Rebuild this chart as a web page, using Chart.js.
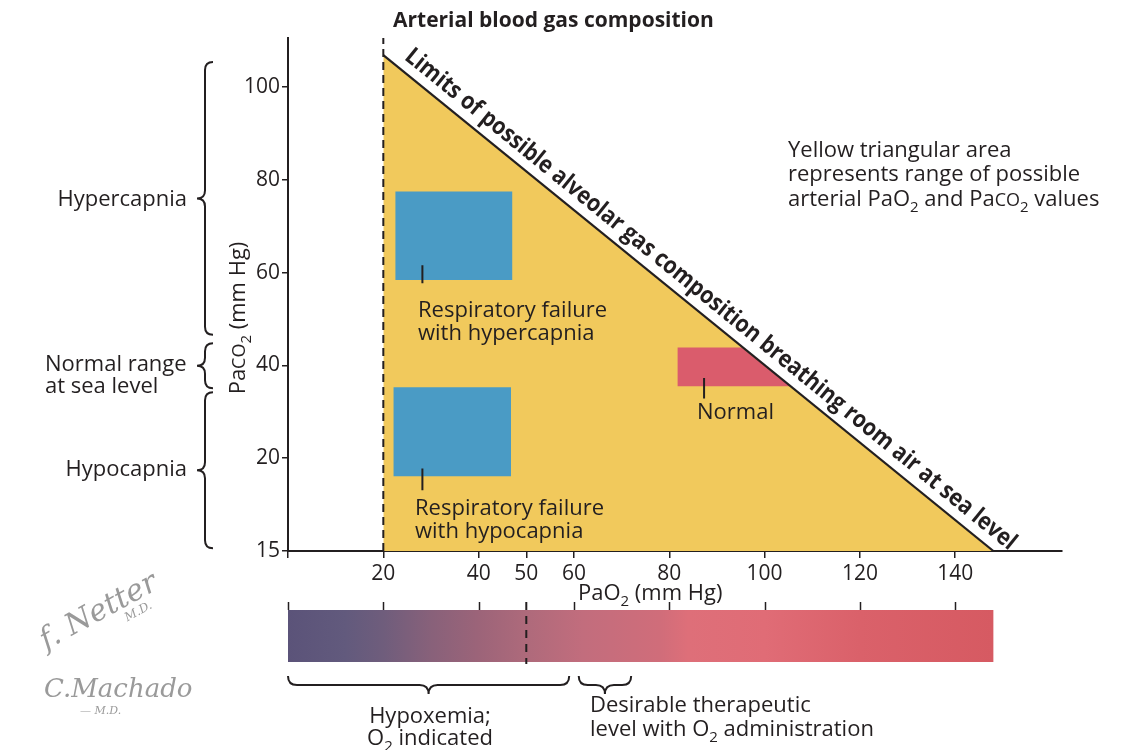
<!DOCTYPE html>
<html><head><meta charset="utf-8">
<script src="https://cdn.jsdelivr.net/npm/chart.js@4/dist/chart.umd.min.js"></script>
<style>html,body{margin:0;padding:0;background:#fff}#wrap{width:1125px;height:750px;position:relative}</style>
</head><body><div id="wrap"><canvas id="c" width="1125" height="750"></canvas></div>
<script>
// ---- data ----
const xTickValues = [0, 20, 40, 50, 60, 80, 100, 120, 140];
const xTickLabels = ['', '20', '40', '50', '60', '80', '100', '120', '140'];
const yTickValues = [0, 20, 40, 60, 80, 100];
const yTickLabels = ['15', '20', '40', '60', '80', '100'];
const limitLine = [{x: 20, y: 106.9}, {x: 148, y: 0}];           // alveolar gas limit
const dashedLine = [{x: 20, y: 0}, {x: 20, y: 110.6}];
const hyperRect = [{x: 22.5, y: 77.5}, {x: 47.1, y: 77.5}];     const hyperBottom = 58.4;
const hypoRect = [{x: 22.1, y: 35.3}, {x: 46.8, y: 35.3}];      const hypoBottom = 16.1;
const normalRect = [{x: 81.7, y: 43.9}, {x: 95.2, y: 43.9}, {x: 105.4, y: 35.5}]; const normalBottom = 35.5;
const leaderHyper = [{x: 28.2, y: 61.6}, {x: 28.2, y: 57.7}];
const leaderHypo = [{x: 28.2, y: 17.8}, {x: 28.2, y: 13.1}];
const leaderNormal = [{x: 87.3, y: 37.3}, {x: 87.3, y: 32.9}];
const braceY = [[105.4, 46.6], [44.8, 35.1], [34.2, 0.6]];
const braceX = [[0, 59], [61, 72]];
const barRange = [0, 148];
const barTicks = [0, 20, 40, 60, 80, 100, 120, 140];
const barDash = 50;
const barStops = [[0,'#5b5379'],[12,'#625a7d'],[20,'#6f5d7c'],[30,'#88617a'],[40,'#9c6479'],[50,'#ae6a7b'],[62,'#c26d7d'],[78,'#d06d7a'],[84,'#de6f79'],[100,'#e06c76'],[120,'#da616a'],[148,'#d65a62']];

const FONT = '"Open Sans", "DejaVu Sans", sans-serif';
const YELLOW = '#f1c95c', BLUE = '#4a9bc5', RED = '#da5c6c', INK = '#231f20';
const FS = 22;

function rich(ctx, parts, x, y, size, align, weight) {
  weight = weight || 'normal';
  const f = k => k === 'sub' ? `${weight} ${Math.round(size*0.68)}px ${FONT}` : k === 'sc' ? `${weight} ${Math.round(size*0.8)}px ${FONT}` : `${weight} ${size}px ${FONT}`;
  let w = 0;
  for (const [t, k] of parts) { ctx.font = f(k); w += ctx.measureText(t).width; }
  let cx = align === 'center' ? x - w/2 : align === 'right' ? x - w : x;
  ctx.textAlign = 'left'; ctx.textBaseline = 'alphabetic';
  for (const [t, k] of parts) { ctx.font = f(k); ctx.fillText(t, cx, y + (k === 'sub' ? size*0.28 : 0)); cx += ctx.measureText(t).width; }
}
function braceV(ctx, x, y1, y2, w, r) {
  const ym = (y1 + y2) / 2;
  ctx.beginPath();
  ctx.moveTo(x + w, y1);
  ctx.quadraticCurveTo(x, y1, x, y1 + r);
  ctx.lineTo(x, ym - r);
  ctx.quadraticCurveTo(x, ym, x - w, ym);
  ctx.quadraticCurveTo(x, ym, x, ym + r);
  ctx.lineTo(x, y2 - r);
  ctx.quadraticCurveTo(x, y2, x + w, y2);
  ctx.stroke();
}
function braceH(ctx, x1, x2, y, h, r) {
  const xm = (x1 + x2) / 2;
  ctx.beginPath();
  ctx.moveTo(x1, y - h);
  ctx.quadraticCurveTo(x1, y, x1 + r, y);
  ctx.lineTo(xm - r, y);
  ctx.quadraticCurveTo(xm, y, xm, y + h);
  ctx.quadraticCurveTo(xm, y, xm + r, y);
  ctx.lineTo(x2 - r, y);
  ctx.quadraticCurveTo(x2, y, x2, y - h);
  ctx.stroke();
}

const annot = {
  id: 'annot',
  afterDraw(chart) {
    const ctx = chart.ctx, xs = chart.scales.x, ys = chart.scales.y;
    ctx.save();
    ctx.fillStyle = INK; ctx.strokeStyle = INK;
    // diagonal text
    const p1 = {x: xs.getPixelForValue(limitLine[0].x), y: ys.getPixelForValue(limitLine[0].y)};
    const p2 = {x: xs.getPixelForValue(limitLine[1].x), y: ys.getPixelForValue(limitLine[1].y)};
    const ang = Math.atan2(p2.y - p1.y, p2.x - p1.x);
    const len = Math.hypot(p2.x - p1.x, p2.y - p1.y);
    const txt = 'Limits of possible alveolar gas composition breathing room air at sea level';
    ctx.save();
    ctx.translate(p1.x, p1.y); ctx.rotate(ang);
    ctx.font = `bold 24px ${FONT}`;
    const tw = ctx.measureText(txt).width;
    const target = len - 6;
    ctx.translate(18, -10);
    ctx.scale(target / tw, 1);
    ctx.textAlign = 'left'; ctx.textBaseline = 'alphabetic';
    ctx.fillText(txt, 0, 0);
    ctx.restore();

    // title
    rich(ctx, [['Arterial blood gas composition']], 393, 27, 21, 'left', 'bold');
    // y axis title
    ctx.save(); ctx.translate(245, 318); ctx.rotate(-Math.PI/2);
    rich(ctx, [['Pa'], ['CO', 'sc'], ['2', 'sub'], [' (mm Hg)']], 0, 0, FS, 'center');
    ctx.restore();
    // x axis title
    rich(ctx, [['Pa'], ['O'], ['2', 'sub'], [' (mm Hg)']], 578, 600, FS, 'left');
    // right text
    rich(ctx, [['Yellow triangular area']], 788, 157, FS, 'left');
    rich(ctx, [['represents range of possible']], 788, 181, FS, 'left');
    rich(ctx, [['arterial Pa'], ['O'], ['2', 'sub'], [' and Pa'], ['CO', 'sc'], ['2', 'sub'], [' values']], 788, 206, FS, 'left');
    // rect labels
    rich(ctx, [['Respiratory failure']], 418, 317, FS, 'left');
    rich(ctx, [['with hypercapnia']], 418, 340, FS, 'left');
    rich(ctx, [['Respiratory failure']], 415, 515, FS, 'left');
    rich(ctx, [['with hypocapnia']], 415, 538, FS, 'left');
    rich(ctx, [['Normal']], 697, 419, FS, 'left');
    // left braces and labels
    ctx.lineWidth = 2;
    for (const [a, b] of braceY) braceV(ctx, 205, ys.getPixelForValue(a), ys.getPixelForValue(b), 8, 8);
    rich(ctx, [['Hypercapnia']], 187, 206, FS, 'right');
    rich(ctx, [['Normal range']], 45, 371, FS, 'left');
    rich(ctx, [['at sea level']], 45, 393, FS, 'left');
    rich(ctx, [['Hypocapnia']], 187, 476, FS, 'right');

    // colour bar
    const bx0 = xs.getPixelForValue(barRange[0]), bx1 = xs.getPixelForValue(barRange[1]);
    const g = ctx.createLinearGradient(bx0, 0, bx1, 0);
    for (const [v, c] of barStops) g.addColorStop((v - barRange[0]) / (barRange[1] - barRange[0]), c);
    ctx.fillStyle = g; ctx.fillRect(bx0, 610, bx1 - bx0, 52);
    ctx.fillStyle = INK;
    ctx.lineWidth = 1.5;
    for (const v of barTicks) { const px = Math.round(xs.getPixelForValue(v)) + 0.5; ctx.beginPath(); ctx.moveTo(px, 602); ctx.lineTo(px, 610); ctx.stroke(); }
    ctx.save(); ctx.lineWidth = 2; ctx.setLineDash([8, 6]);
    const dx = xs.getPixelForValue(barDash);
    ctx.beginPath(); ctx.moveTo(dx, 602); ctx.lineTo(dx, 664); ctx.stroke(); ctx.restore();
    // bottom braces
    ctx.lineWidth = 2;
    for (const [a, b] of braceX) braceH(ctx, xs.getPixelForValue(a), xs.getPixelForValue(b), 685, 9, 9);
    rich(ctx, [['Hypoxemia;']], 430, 723, FS, 'center');
    rich(ctx, [['O'], ['2', 'sub'], [' indicated']], 430, 745, FS, 'center');
    rich(ctx, [['Desirable therapeutic']], 590, 712, FS, 'left');
    rich(ctx, [['level with O'], ['2', 'sub'], [' administration']], 590, 736, FS, 'left');

    // signatures
    ctx.fillStyle = '#9a9a9a';
    ctx.save(); ctx.translate(46, 650); ctx.rotate(-0.5);
    ctx.font = `italic 30px "DejaVu Serif", serif`; ctx.fillText('f. Netter', 0, 0);
    ctx.font = `italic 12px "DejaVu Serif", serif`; ctx.fillText('M.D.', 85, 14);
    ctx.restore();
    ctx.font = `italic 26px "DejaVu Serif", serif`; ctx.fillText('C.Machado', 44, 697);
    ctx.font = `italic 11px "DejaVu Serif", serif`; ctx.fillText('— M.D.', 80, 714);
    ctx.restore();
  }
};

const lineDs = (data, extra) => Object.assign({data, pointRadius: 0, borderWidth: 0, borderColor: 'rgba(0,0,0,0)', tension: 0, fill: false}, extra);

new Chart(document.getElementById('c'), {
  type: 'line',
  data: {
    datasets: [
      lineDs(limitLine, {label: 'triangle', fill: 'origin', backgroundColor: YELLOW, order: 9}),
      lineDs(hyperRect, {label: 'hyper', fill: {value: hyperBottom}, backgroundColor: BLUE, order: 5}),
      lineDs(hypoRect, {label: 'hypo', fill: {value: hypoBottom}, backgroundColor: BLUE, order: 5}),
      lineDs(normalRect, {label: 'normal', fill: {value: normalBottom}, backgroundColor: RED, order: 5}),
      lineDs(limitLine, {label: 'limit', borderColor: INK, borderWidth: 2.2, order: 1}),
      lineDs(dashedLine, {label: 'dash', borderColor: INK, borderWidth: 2, borderDash: [8, 5], order: 1}),
      lineDs(leaderHyper, {label: 'l1', borderColor: INK, borderWidth: 2, order: 1}),
      lineDs(leaderHypo, {label: 'l2', borderColor: INK, borderWidth: 2, order: 1}),
      lineDs(leaderNormal, {label: 'l3', borderColor: INK, borderWidth: 2, order: 1})
    ]
  },
  options: {
    responsive: false, animation: false, events: [],
    layout: {padding: {left: 0, right: 63, top: 38, bottom: 0}},
    plugins: {legend: {display: false}, tooltip: {enabled: false}, title: {display: false}},
    scales: {
      x: {
        type: 'linear', min: 0, max: 162.4,
        afterFit: s => { s.height = 199; },
        afterBuildTicks: s => { s.ticks = xTickValues.map(v => ({value: v})); },
        ticks: {autoSkip: false, maxRotation: 0, padding: 3, color: INK, font: {family: FONT, size: 21},
          callback: (v) => xTickLabels[xTickValues.indexOf(v)]},
        grid: {display: true, drawOnChartArea: false, drawTicks: true, tickLength: 7, color: INK, lineWidth: 1.5},
        border: {display: true, color: INK, width: 2}
      },
      y: {
        type: 'linear', min: 0, max: 110.6,
        afterFit: s => { s.width = 288; },
        afterBuildTicks: s => { s.ticks = yTickValues.map(v => ({value: v})); },
        ticks: {autoSkip: false, padding: 2, color: INK, font: {family: FONT, size: 21},
          callback: (v) => yTickLabels[yTickValues.indexOf(v)]},
        grid: {display: true, drawOnChartArea: false, drawTicks: true, tickLength: 6, color: INK, lineWidth: 1.5},
        border: {display: true, color: INK, width: 2}
      }
    }
  },
  plugins: [annot]
});
</script></body></html>
